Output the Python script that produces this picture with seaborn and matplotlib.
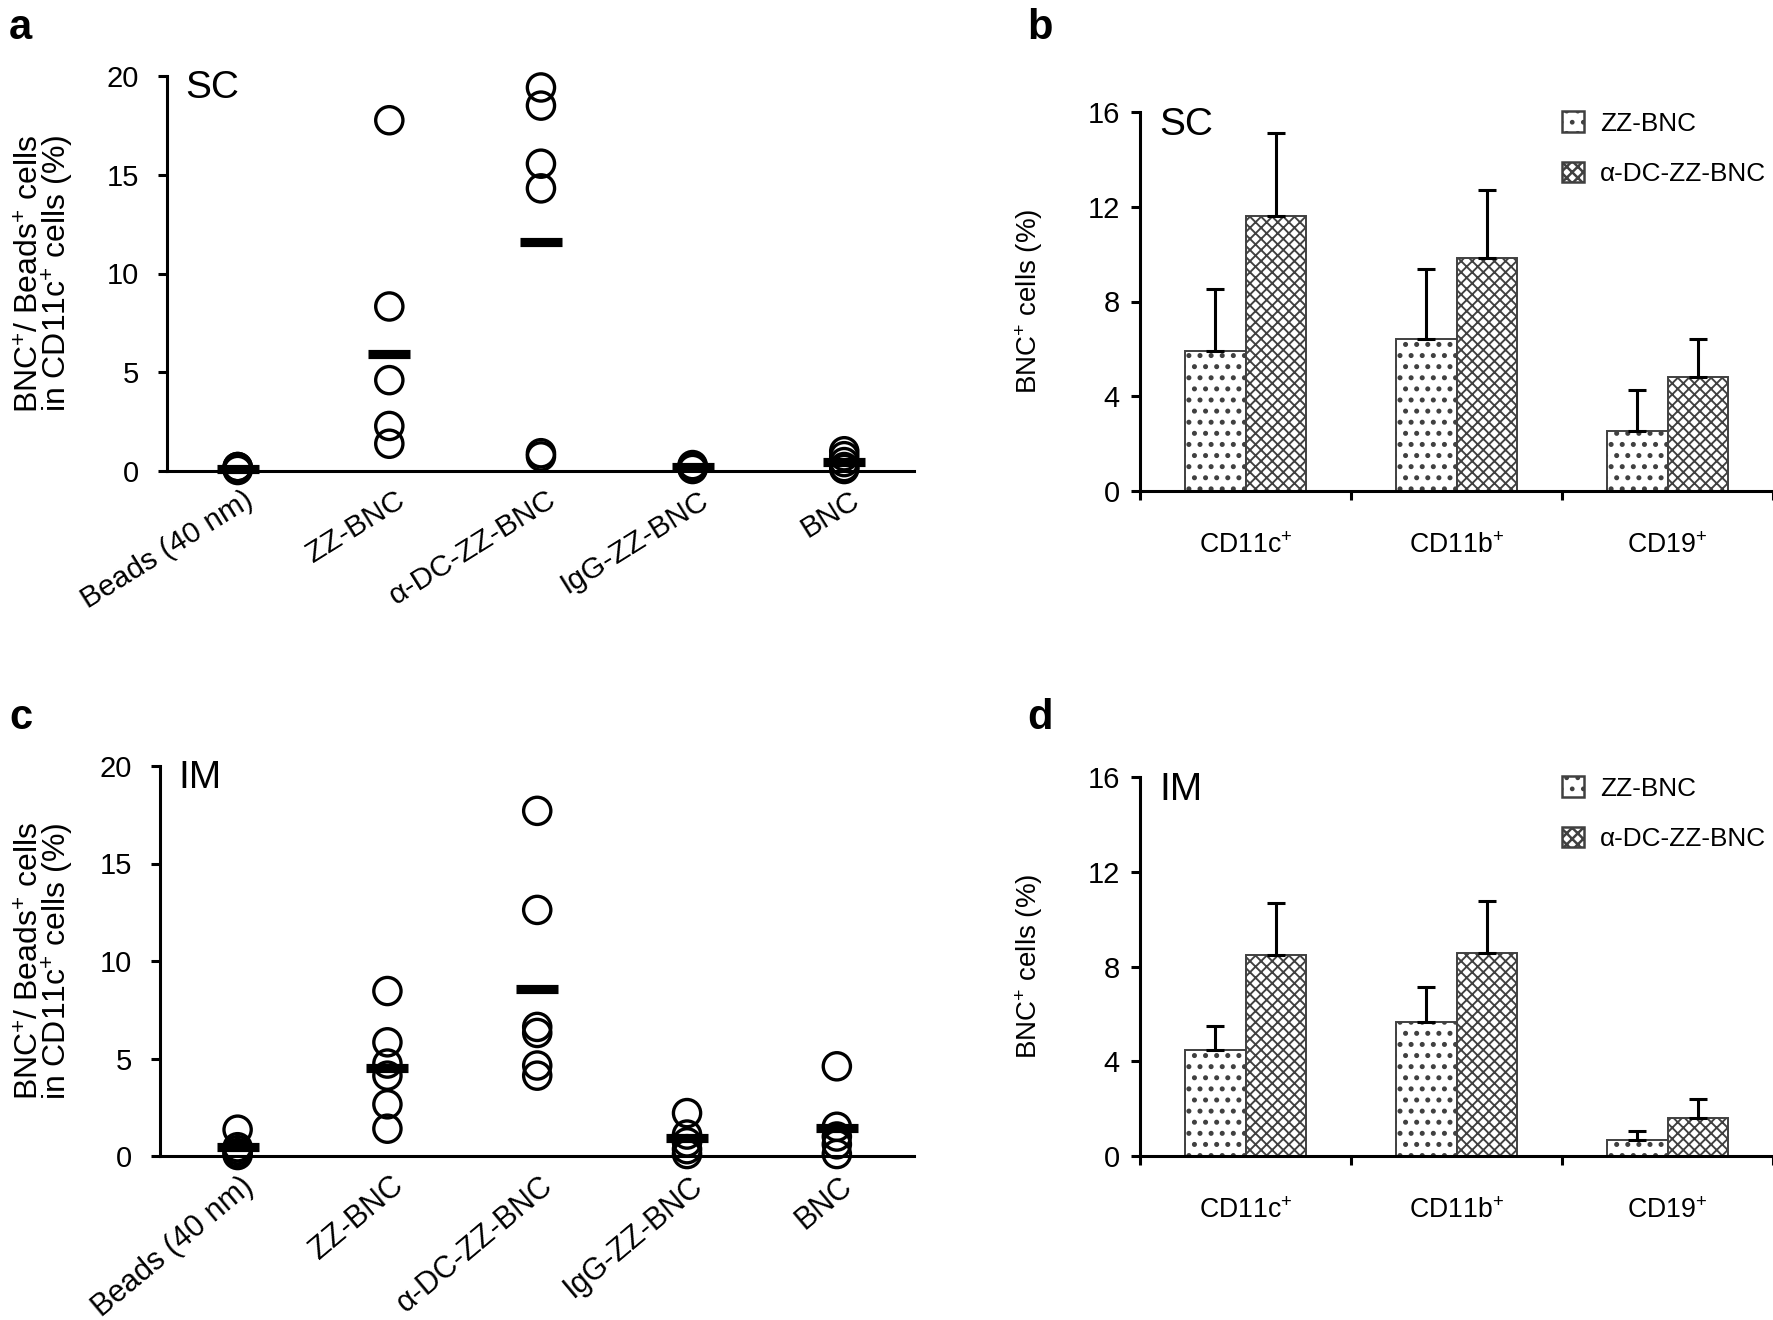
import numpy as np
import pandas as pd
import matplotlib
matplotlib.use("Agg")
import matplotlib.pyplot as plt
import seaborn as sns
from matplotlib.patches import Patch
from matplotlib.transforms import ScaledTranslation

plt.rcParams['font.family'] = ['Liberation Sans', 'DejaVu Sans']
plt.rcParams['mathtext.fontset'] = 'custom'
plt.rcParams['mathtext.rm'] = 'Liberation Sans'
plt.rcParams['mathtext.it'] = 'Liberation Sans:italic'
plt.rcParams['mathtext.bf'] = 'Liberation Sans:bold'
plt.rcParams['hatch.linewidth'] = 0.9

# ---------------- data ----------------
groups = ['Beads (40 nm)', 'ZZ-BNC', 'α-DC-ZZ-BNC', 'IgG-ZZ-BNC', 'BNC']

sc_beads = [0.05, 0.1, 0.15, 0.2, 0.2]
sc_zz = [17.76, 8.33, 4.6, 2.28, 1.38]
sc_adc = [19.42, 18.5, 15.56, 14.31, 0.9, 0.74]
sc_igg = [0.1, 0.2, 0.25, 0.3, 0.15]
sc_bnc = [1.0, 0.75, 0.45, 0.2, 0.1]
sc_means = [0.12, 5.93, 11.57, 0.2, 0.47]

im_beads = [1.35, 0.45, 0.3, 0.15, 0.05]
im_zz = [8.46, 5.83, 4.74, 4.12, 2.65, 1.4]
im_adc = [17.7, 12.62, 6.62, 6.31, 4.64, 4.12]
im_igg = [2.2, 1.1, 0.7, 0.35, 0.1]
im_bnc = [4.6, 1.5, 1.0, 0.6, 0.1]
im_means = [0.44, 4.51, 8.57, 0.94, 1.44]

cells = ['CD11c$^{+}$', 'CD11b$^{+}$', 'CD19$^{+}$']
conds = ['ZZ-BNC', 'α-DC-ZZ-BNC']
sc_bar_zz = [5.9, 6.41, 2.53]
sc_err_zz = [2.62, 2.96, 1.72]
sc_bar_adc = [11.62, 9.82, 4.82]
sc_err_adc = [3.5, 2.87, 1.59]
im_bar_zz = [4.47, 5.67, 0.68]
im_err_zz = [1.03, 1.45, 0.39]
im_bar_adc = [8.48, 8.59, 1.59]
im_err_adc = [2.21, 2.18, 0.83]

W, H = 1773, 1320
DPI = 200
fig = plt.figure(figsize=(W / DPI, H / DPI), dpi=DPI)

HATCHES = ['...', 'xxxxxx']
HATCH_LW = [1.0, 0.68]
EDGE = '#404040'


def px_axes(left, top, right, bottom):
    return fig.add_axes([left / W, 1 - bottom / H, (right - left) / W, (bottom - top) / H])


def style_spines(ax):
    for s in ['top', 'right']:
        ax.spines[s].set_visible(False)
    for s in ['left', 'bottom']:
        ax.spines[s].set_linewidth(1.1)
        ax.spines[s].set_color('black')
    ax.set_facecolor('none')


def apply_hatch(p, i):
    p.set_hatch(HATCHES[i])
    p.set_edgecolor(EDGE)
    if hasattr(p, 'set_hatch_linewidth'):
        p.set_hatch_linewidth(HATCH_LW[i])


def scatter_panel(ax, point_lists, means, tag, xlim, rot, lab_size, lab_pad, lab_shift, ylab_x):
    df = pd.DataFrame({
        'group': [g for g, vals in zip(groups, point_lists) for _ in vals],
        'value': [v for vals in point_lists for v in vals],
    })
    sns.stripplot(data=df, x='group', y='value', order=groups, jitter=False,
                  size=9.8, color='black', edgecolor='black', linewidth=1.2,
                  ax=ax, clip_on=False, zorder=3)
    for coll in ax.collections:
        coll.set_facecolor('none')
        coll.set_edgecolor('black')
        coll.set_clip_on(False)
    sns.pointplot(x=groups, y=means, order=groups, markers='_', linestyles='none',
                  color='black', markersize=15, markeredgewidth=3.3,
                  errorbar=None, ax=ax, zorder=5, clip_on=False)
    ax.set_ylim(0, 20)
    ax.set_xlim(*xlim)
    ax.set_yticks([0, 5, 10, 15, 20])
    ax.set_xticks(range(len(groups)))
    ax.tick_params(axis='x', length=0, pad=lab_pad)
    ax.tick_params(axis='y', direction='out', length=3.2, width=1.1, pad=7, labelsize=10.5)
    ax.set_xticklabels(groups, rotation=rot, ha='right', va='center',
                       rotation_mode='anchor', fontsize=lab_size)
    for lbl in ax.get_xticklabels():
        lbl.set_transform(lbl.get_transform() + ScaledTranslation(lab_shift / DPI, 0, fig.dpi_scale_trans))
    style_spines(ax)
    ax.set_xlabel('')
    ax.set_ylabel('BNC$^{+}$/ Beads$^{+}$ cells\nin CD11c$^{+}$ cells (%)', fontsize=11.5,
                  linespacing=0.78)
    ax.yaxis.set_label_coords(ylab_x, 0.5)
    ax.text(0.025, 0.97, tag, transform=ax.transAxes, fontsize=14, va='center', ha='left')


def bar_panel(ax, zz, zz_err, adc, adc_err, tag):
    df = pd.DataFrame({
        'cell': cells * 2,
        'cond': [conds[0]] * 3 + [conds[1]] * 3,
        'value': list(zz) + list(adc),
    })
    sns.barplot(data=df, x='cell', y='value', hue='cond', order=cells, hue_order=conds,
                width=0.575, gap=0, errorbar=None, palette=['white', 'white'],
                saturation=1, edgecolor=EDGE, linewidth=0.7, legend=False, ax=ax,
                zorder=2)
    errs = [zz_err, adc_err]
    for i, (cont, err) in enumerate(zip(ax.containers, errs)):
        xs, ys = [], []
        for p in cont.patches:
            apply_hatch(p, i)
            xs.append(p.get_x() + p.get_width() / 2)
            ys.append(p.get_height())
        ax.errorbar(xs, ys, yerr=[np.zeros(len(err)), err], fmt='none', ecolor='black',
                    elinewidth=1.1, capsize=3.3, capthick=1.1, zorder=3)
    ax.set_ylim(0, 16)
    ax.set_xlim(-0.5, 2.5)
    ax.set_yticks([0, 4, 8, 12, 16])
    ax.set_xticks([0, 1, 2])
    ax.set_xticks([-0.5, 0.5, 1.5, 2.5], minor=True)
    ax.tick_params(axis='x', which='major', length=0, pad=15)
    ax.tick_params(axis='x', which='minor', direction='out', length=3.2, width=1.1)
    ax.tick_params(axis='y', direction='out', length=3.2, width=1.1, pad=4, labelsize=10.5)
    ax.set_xticklabels(cells, fontsize=9.6)
    style_spines(ax)
    ax.set_xlabel('')
    ax.set_ylabel('BNC$^{+}$ cells (%)', fontsize=10)
    ax.yaxis.set_label_coords(-0.15, 0.5)
    ax.text(0.03, 0.967, tag, transform=ax.transAxes, fontsize=14, va='center', ha='left')
    handles = []
    for i in range(2):
        h = Patch(facecolor='white', edgecolor=EDGE, linewidth=0.9)
        apply_hatch(h, i)
        handles.append(h)
    ax.legend(handles, conds, loc='upper left', bbox_to_anchor=(0.65, 1.03), frameon=False,
              fontsize=9.4, handlelength=0.85, handleheight=0.85, handletextpad=0.6,
              labelspacing=1.0, borderaxespad=0)


ax_a = px_axes(167, 76, 914, 471)
scatter_panel(ax_a, [sc_beads, sc_zz, sc_adc, sc_igg, sc_bnc], sc_means, 'SC',
              (-0.466, 4.46), rot=32, lab_size=10.8, lab_pad=9.5, lab_shift=13, ylab_x=-0.122)

ax_c = px_axes(160, 766, 914, 1156)
scatter_panel(ax_c, [im_beads, im_zz, im_adc, im_igg, im_bnc], im_means, 'IM',
              (-0.518, 4.515), rot=40, lab_size=11.0, lab_pad=9.5, lab_shift=12, ylab_x=-0.112)

ax_b = px_axes(1140, 112, 1773, 491)
bar_panel(ax_b, sc_bar_zz, sc_err_zz, sc_bar_adc, sc_err_adc, 'SC')

ax_d = px_axes(1140, 777, 1773, 1156)
bar_panel(ax_d, im_bar_zz, im_err_zz, im_bar_adc, im_err_adc, 'IM')

for lbl, (x, y) in zip('abcd', [(9, 28), (1027, 28), (9, 718), (1027, 718)]):
    fig.text(x / W, 1 - y / H, lbl, fontsize=15, fontweight='bold', ha='left', va='center')

fig.savefig('out.png', dpi=DPI, facecolor='white')
